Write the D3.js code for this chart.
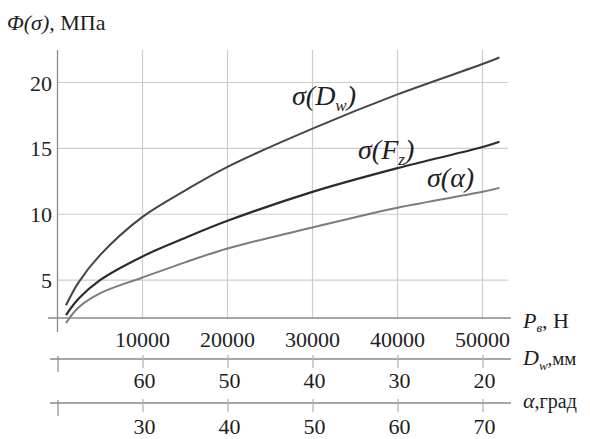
<!DOCTYPE html>
<html>
<head>
<meta charset="utf-8">
<script src="https://cdn.jsdelivr.net/npm/d3@7/dist/d3.min.js"></script>
<style>
  html, body { margin: 0; padding: 0; background: #fff; }
  svg text { font-family: "Liberation Serif", "Tinos", "Times New Roman", Times, "DejaVu Serif", serif; fill: #1e1e1e; }
</style>
</head>
<body>
<svg id="chart" width="590" height="439" font-family="Liberation Serif, Times New Roman, serif"></svg>
<script>
// Load P (N) at which the three stress curves are evaluated
const loadN      = [1000, 2500, 5000, 10000, 15000, 20000, 30000, 40000, 50000, 52000];
// Φ(σ), MPa
const sigmaDw    = [3.1, 4.85, 6.9, 9.8, 11.8, 13.6, 16.5, 19.1, 21.4, 21.9];
const sigmaFz    = [2.35, 3.6, 5.0, 6.8, 8.2, 9.5, 11.7, 13.5, 15.1, 15.5];
const sigmaAlpha = [1.75, 2.95, 4.0, 5.2, 6.35, 7.4, 9.0, 10.5, 11.7, 12.0];

// Axis ticks
const yTicks     = [5, 10, 15, 20];
const pTicks     = [10000, 20000, 30000, 40000, 50000];
const dwTicks    = [70, 60, 50, 40, 30, 20];
const alphaTicks = [20, 30, 40, 50, 60, 70];

const serif = "Liberation Serif, Tinos, Times New Roman, serif";
const svg = d3.select("#chart");

const x = d3.scaleLinear().domain([0, 50000]).range([57.5, 482.5]);
const y = d3.scaleLinear().domain([0, 20]).range([346, 82.5]);
const dw = d3.scaleLinear().domain([70, 20]).range([57.5, 482.5]);
const alpha = d3.scaleLinear().domain([20, 70]).range([57.5, 482.5]);

const plotTop = 50, baseY = 318, rightEnd = 511;
const gridColor = "#cdcdcd", axisColor = "#8a8a8a";

// grid
svg.append("g").selectAll("line").data(yTicks).join("line")
  .attr("x1", x(0)).attr("x2", 508)
  .attr("y1", d => y(d)).attr("y2", d => y(d))
  .attr("stroke", gridColor).attr("stroke-width", 1.2);
svg.append("g").selectAll("line").data(pTicks).join("line")
  .attr("x1", d => x(d)).attr("x2", d => x(d))
  .attr("y1", plotTop).attr("y2", baseY)
  .attr("stroke", gridColor).attr("stroke-width", 1.2);

// main axes lines
svg.append("line").attr("x1", x(0)).attr("x2", x(0)).attr("y1", plotTop).attr("y2", 332)
  .attr("stroke", axisColor).attr("stroke-width", 1.3);
svg.append("line").attr("x1", 48).attr("x2", rightEnd).attr("y1", baseY).attr("y2", baseY)
  .attr("stroke", axisColor).attr("stroke-width", 1.3);

// y tick labels
svg.append("g").selectAll("text").data(yTicks).join("text")
  .attr("x", 52).attr("y", d => y(d) + 8)
  .attr("text-anchor", "end").attr("font-size", 22).attr("font-family", serif)
  .text(d => d);

// P tick labels
svg.append("g").selectAll("text").data(pTicks).join("text")
  .attr("x", d => x(d)).attr("y", 347)
  .attr("text-anchor", "middle").attr("font-size", 22).attr("font-family", serif)
  .text(d => d);

// secondary scales drawn under the plot
function secondaryAxis(scale, ticks, lineY, labelY) {
  const g = svg.append("g");
  g.append("line").attr("x1", 50).attr("x2", rightEnd).attr("y1", lineY).attr("y2", lineY)
    .attr("stroke", axisColor).attr("stroke-width", 1.3);
  const axis = d3.axisBottom(scale).tickValues(ticks).tickSize(9).tickSizeOuter(0)
    .tickFormat((d, i) => i === 0 ? "" : d);
  const a = g.append("g").attr("transform", `translate(0,${lineY})`).call(axis);
  a.select(".domain").remove();
  a.selectAll(".tick line").attr("stroke", "#b0b0b0").attr("stroke-width", 1.2).attr("y1", -4);
  a.selectAll(".tick").filter((d, i) => i === 0).select("line")
    .attr("y1", -3).attr("y2", 13).attr("stroke", "#8a8a8a");
  a.selectAll(".tick text")
    .attr("y", labelY - lineY).attr("dy", null).attr("dx", 1.5)
    .attr("font-size", 22).attr("font-family", serif)
    .attr("fill", "#1e1e1e");
}
secondaryAxis(dw, dwTicks, 359, 388);
secondaryAxis(alpha, alphaTicks, 403, 434);

// curves
const series = [
  { values: sigmaDw,    color: "#474747", width: 2.1 },
  { values: sigmaFz,    color: "#2b2b2b", width: 2.2 },
  { values: sigmaAlpha, color: "#7c7c7c", width: 2.0 }
];
const line = d3.line().x(d => x(d[0])).y(d => y(d[1])).curve(d3.curveCatmullRom.alpha(0.5));
svg.append("g").selectAll("path").data(series).join("path")
  .attr("d", s => line(loadN.map((p, i) => [p, s.values[i]])))
  .attr("fill", "none").attr("stroke", s => s.color).attr("stroke-width", s => s.width);

// curve labels
function curveLabel(px, py, parts) {
  const t = svg.append("text").attr("x", px).attr("y", py).attr("font-size", 28)
    .attr("font-style", "italic").attr("font-family", serif);
  parts.forEach(p => {
    const ts = t.append("tspan").text(p.t);
    if (p.sub) ts.attr("font-size", 17).attr("dy", 6);
    if (p.up) ts.attr("dy", -6);
  });
}
curveLabel(292, 105, [{ t: "σ(D" }, { t: "w", sub: true }, { t: ")", up: true }]);
curveLabel(358, 159, [{ t: "σ(F" }, { t: "z", sub: true }, { t: ")", up: true }]);
curveLabel(427, 187, [{ t: "σ(α)" }]);

// y axis title
const yt = svg.append("text").attr("x", 7).attr("y", 30).attr("font-size", 22).attr("font-family", serif);
yt.append("tspan").attr("font-style", "italic").text("Φ(σ)");
yt.append("tspan").text(", МПа");

// axis titles on the right
const pt = svg.append("text").attr("x", 523).attr("y", 328).attr("font-size", 22).attr("font-family", serif);
pt.append("tspan").attr("font-style", "italic").text("P");
pt.append("tspan").attr("font-style", "italic").attr("font-size", 13).attr("dy", 4).text("в");
pt.append("tspan").attr("dy", -4).text(", Н");

const dt = svg.append("text").attr("x", 523).attr("y", 365).attr("font-size", 22).attr("font-family", serif);
dt.append("tspan").attr("font-style", "italic").text("D");
dt.append("tspan").attr("font-style", "italic").attr("font-size", 13).attr("dy", 5).text("w");
dt.append("tspan").attr("dy", -5).attr("font-size", 19).text(",мм");

const at = svg.append("text").attr("x", 523).attr("y", 408).attr("font-size", 22).attr("font-family", serif);
at.append("tspan").attr("font-style", "italic").text("α");
at.append("tspan").attr("font-size", 20).text(",град");
</script>
</body>
</html>
